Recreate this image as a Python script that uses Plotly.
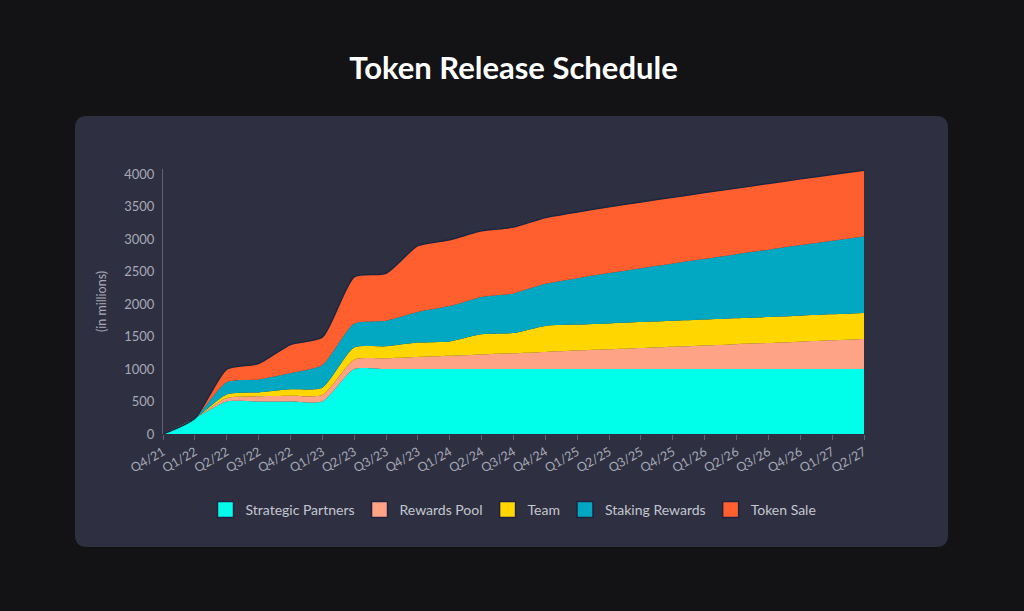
import plotly.graph_objects as go

quarters = ["Q4/21", "Q1/22", "Q2/22", "Q3/22", "Q4/22", "Q1/23", "Q2/23", "Q3/23",
            "Q4/23", "Q1/24", "Q2/24", "Q3/24", "Q4/24", "Q1/25", "Q2/25", "Q3/25",
            "Q4/25", "Q1/26", "Q2/26", "Q3/26", "Q4/26", "Q1/27", "Q2/27"]

strategic_partners = [0, 240, 500, 500, 500, 500, 1000, 1000, 1000, 1000, 1000, 1000,
                      1000, 1000, 1000, 1000, 1000, 1000, 1000, 1000, 1000, 1000, 1000]
rewards_pool = [0, 0, 55, 80, 88, 100, 145, 165, 185, 204, 224, 244,
                264, 284, 303, 323, 343, 363, 383, 402, 422, 442, 462]
team = [0, 0, 55, 60, 100, 112, 185, 185, 222, 222, 310, 310,
        400, 400, 400, 400, 400, 400, 400, 400, 400, 400, 400]
staking_rewards = [0, 0, 190, 200, 250, 350, 370, 395, 473, 544, 577, 611,
                   648, 715, 775, 830, 882, 934, 986, 1036, 1086, 1134, 1180]
token_sale = [0, 0, 200, 245, 440, 430, 720, 730, 1020, 1020, 1020, 1020,
              1020, 1020, 1020, 1020, 1020, 1020, 1020, 1020, 1020, 1020, 1020]

series = [
    ("Strategic Partners", strategic_partners, "#00FFEA"),
    ("Rewards Pool", rewards_pool, "#FFA386"),
    ("Team", team, "#FFD600"),
    ("Staking Rewards", staking_rewards, "#02A8C1"),
    ("Token Sale", token_sale, "#FF5F2F"),
]

FONT = "Lato, 'Open Sans', sans-serif"
GREY = "#A7A9B7"
OUTER = "#131316"

fig = go.Figure()
for i, (name, vals, col) in enumerate(series):
    top = i == len(series) - 1
    fig.add_trace(go.Scatter(
        x=quarters, y=vals, name=name, stackgroup="one", mode="lines",
        line=dict(shape="spline", smoothing=0.6, width=1.5 if top else 0,
                  color="#1B2740" if top else col),
        fillcolor=col, showlegend=False, hoverinfo="skip",
    ))
for name, vals, col in series:
    fig.add_trace(go.Scatter(
        x=[None], y=[None], name=name, mode="markers",
        marker=dict(symbol="square", size=18, color=col,
                    line=dict(color="#20213F", width=1.5)),
        showlegend=True, hoverinfo="skip",
    ))

# rounded card background
L, R, T, B = 163, 864, 169, 434
W, H = R - L, B - T
def px(x):
    return (x - L) / W
def py(y):
    return (B - y) / H
cx0, cx1, cy0, cy1, rad = 75, 948, 116, 547, 12
path = (f"M {px(cx0+rad)},{py(cy0)} L {px(cx1-rad)},{py(cy0)} "
        f"Q {px(cx1)},{py(cy0)} {px(cx1)},{py(cy0+rad)} "
        f"L {px(cx1)},{py(cy1-rad)} Q {px(cx1)},{py(cy1)} {px(cx1-rad)},{py(cy1)} "
        f"L {px(cx0+rad)},{py(cy1)} Q {px(cx0)},{py(cy1)} {px(cx0)},{py(cy1-rad)} "
        f"L {px(cx0)},{py(cy0+rad)} Q {px(cx0)},{py(cy0)} {px(cx0+rad)},{py(cy0)} Z")

fig.update_layout(
    width=1024, height=611,
    margin=dict(l=L, r=1024 - R, t=T, b=611 - B),
    paper_bgcolor=OUTER, plot_bgcolor="rgba(0,0,0,0)",
    font=dict(family=FONT, color=GREY, size=12),
    title=dict(text="<b>Token Release Schedule</b>", x=0.5, xanchor="center",
               xref="paper", y=1 - 68 / 611, yanchor="middle",
               font=dict(family=FONT, size=31, color="#FFFFFF")),
    shapes=[dict(type="path", xref="paper", yref="paper", path=path,
                 fillcolor="#2E3041", line=dict(width=0), layer="below")],
    showlegend=True,
    legend=dict(orientation="h", x=0.5, xanchor="center", y=py(510), yanchor="middle",
                traceorder="normal",
                font=dict(family=FONT, size=14, color="#C4C6D0"),
                bgcolor="rgba(0,0,0,0)", itemclick=False, itemdoubleclick=False),
    xaxis=dict(type="category", range=[0, len(quarters) - 1], showgrid=False,
               showline=False, zeroline=False, ticks="outside", ticklen=5,
               tickcolor="#5E6173", tickangle=-30,
               tickfont=dict(family=FONT, size=12.5, color=GREY)),
    yaxis=dict(range=[0, 4080], tickvals=[0, 500, 1000, 1500, 2000, 2500, 3000, 3500, 4000],
               showgrid=False, zeroline=False, showline=True, linecolor="#5E6173",
               linewidth=1, ticks="", ticklabelstandoff=5,
               tickfont=dict(family=FONT, size=13, color=GREY),
               title=dict(text="(in millions)", standoff=14,
                          font=dict(family=FONT, size=12.5, color=GREY))),
)

fig.write_html("out.html", config={"displayModeBar": False},
               post_script=f"document.body.style.margin='0';document.body.style.background='{OUTER}';")
